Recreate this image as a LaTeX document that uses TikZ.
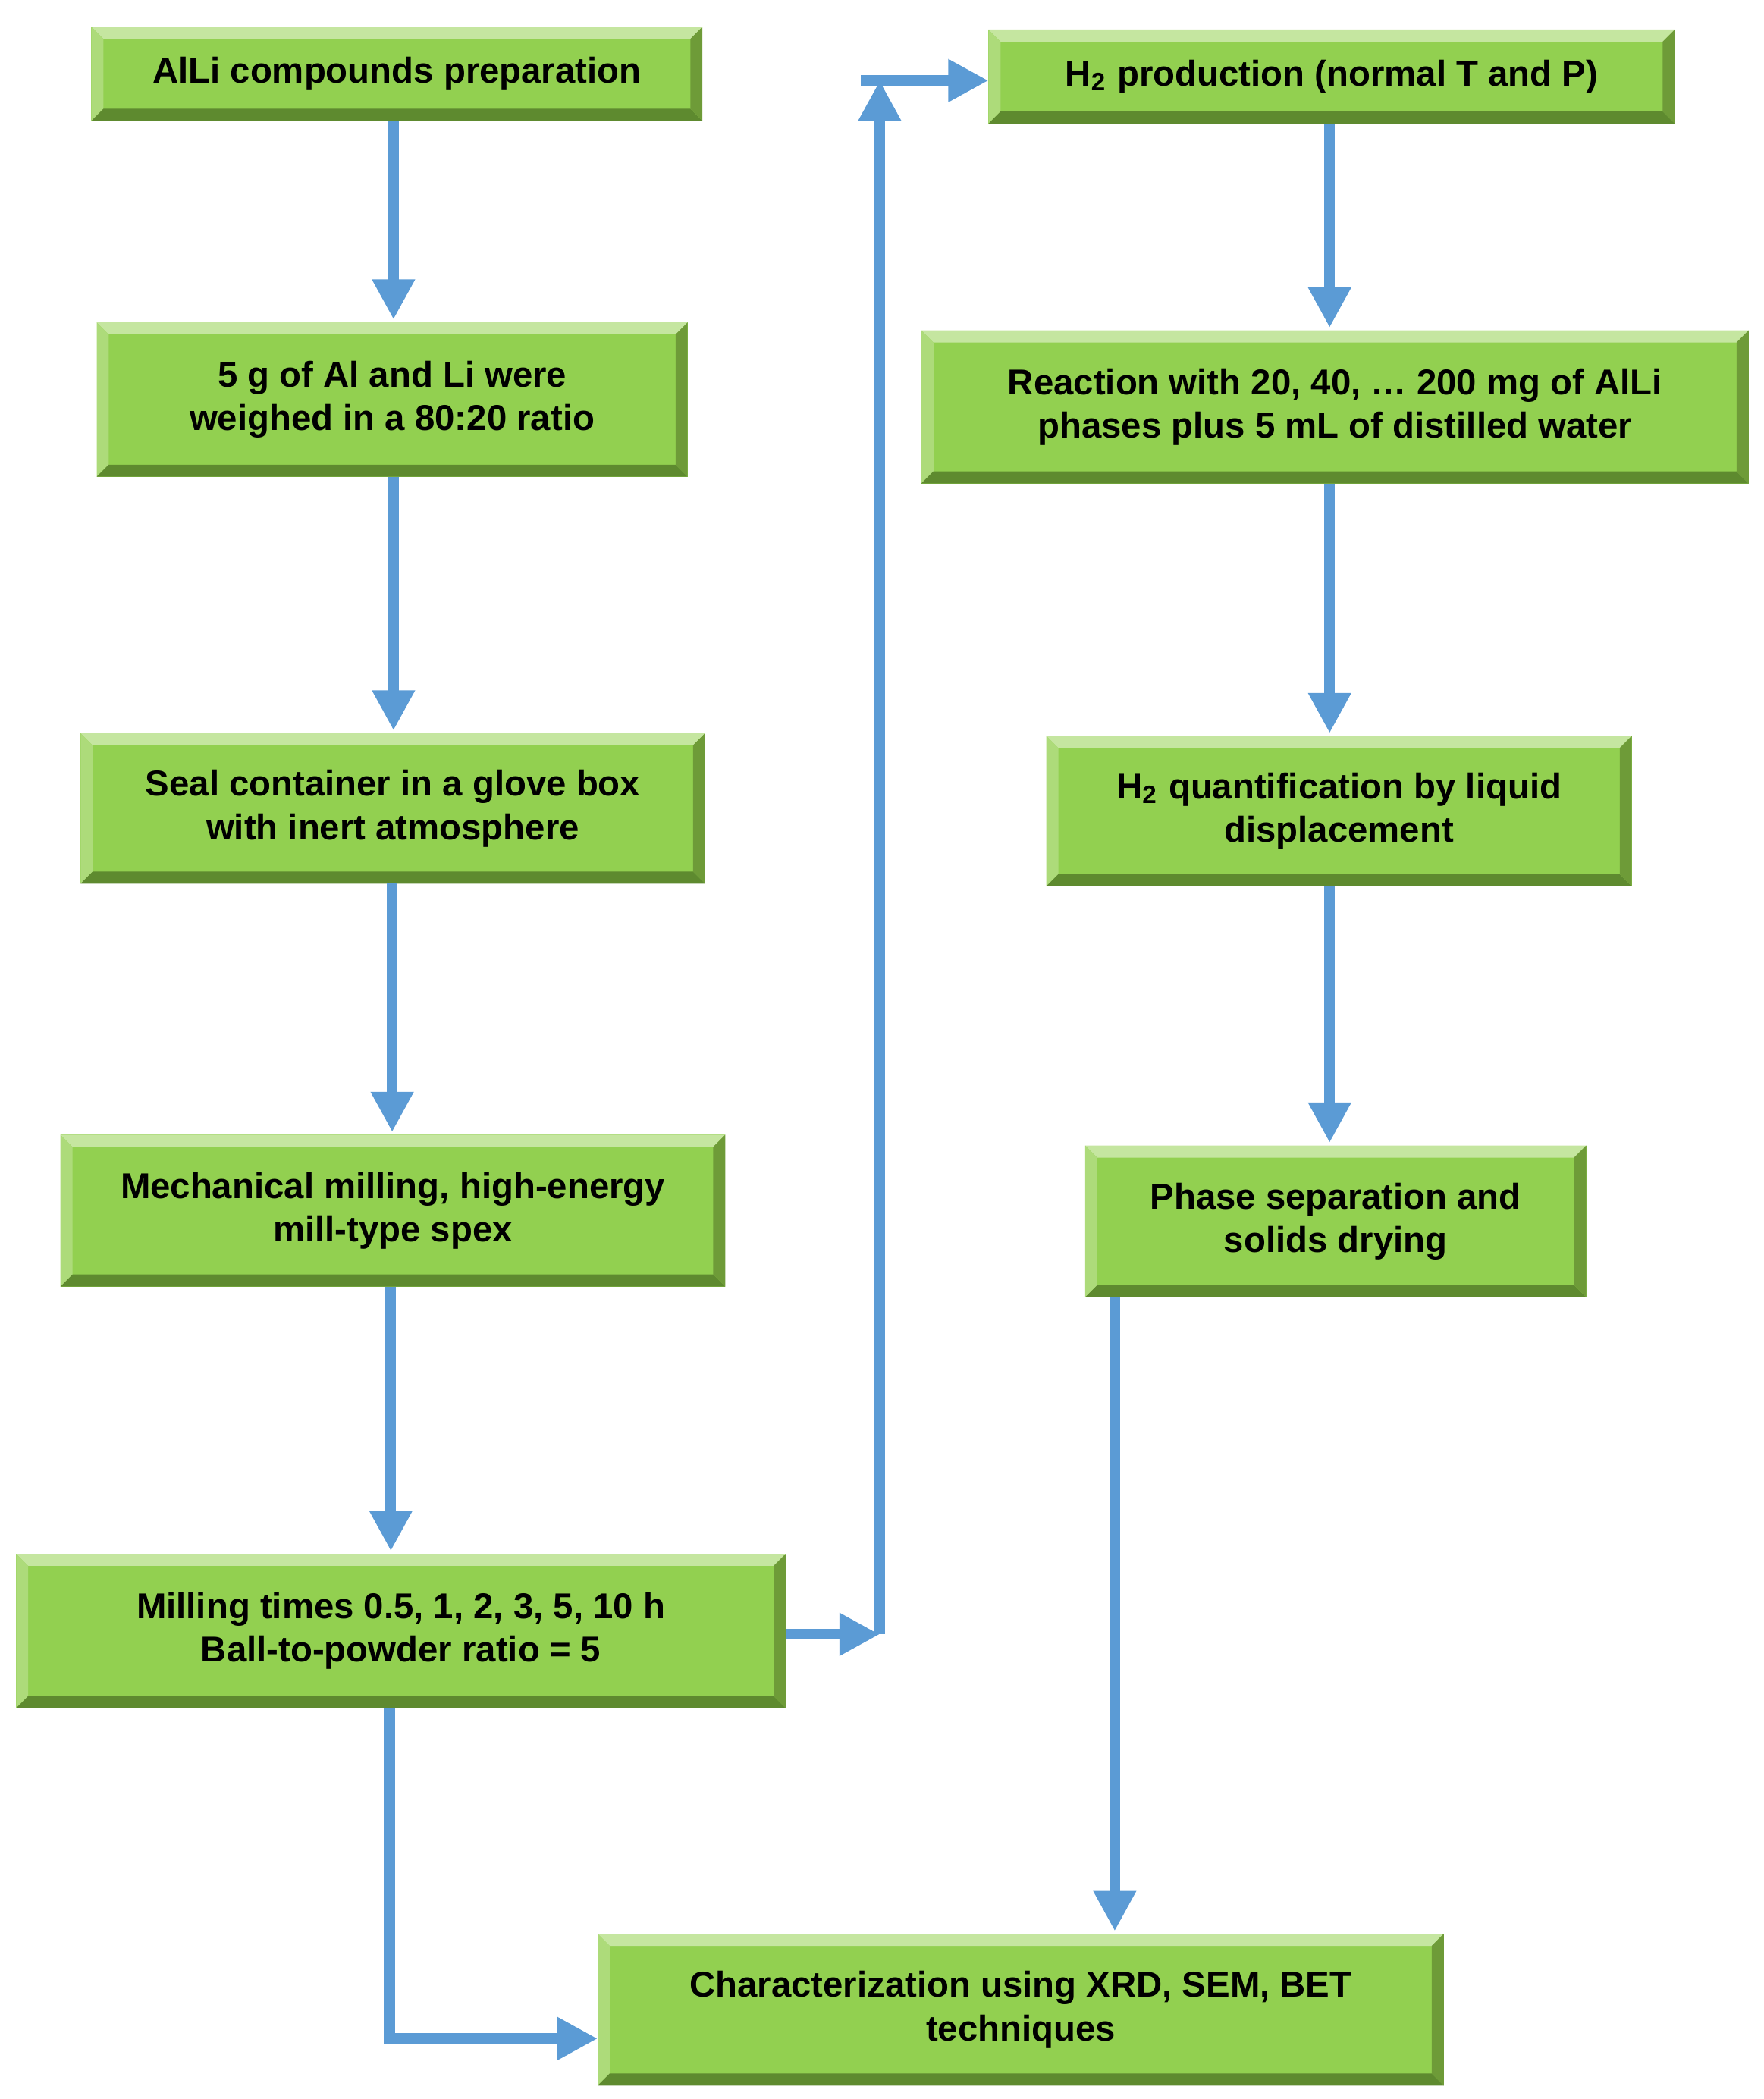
\documentclass[tikz,border=0pt]{standalone}
\usepackage{fontspec}
\setmainfont{Liberation Sans}
\usetikzlibrary{arrows.meta}
\definecolor{gfill}{HTML}{92D050}
\definecolor{glight}{HTML}{C5E6A0}
\definecolor{gleft}{HTML}{ADDB7A}
\definecolor{gdark}{HTML}{5E8A2F}
\definecolor{gright}{HTML}{6E9B38}
\definecolor{ablue}{HTML}{5B9BD5}
\tikzset{
 box/.style={fill=gfill, inner sep=0pt, outer sep=0pt, align=center,
  font=\fontsize{7.6}{9.2}\selectfont\bfseries,
  path picture={
   \def\b{0.09cm}
   \coordinate (nw) at (path picture bounding box.north west);
   \coordinate (ne) at (path picture bounding box.north east);
   \coordinate (sw) at (path picture bounding box.south west);
   \coordinate (se) at (path picture bounding box.south east);
   \fill[glight] (nw)--(ne)--([shift={(-\b,-\b)}]ne)--([shift={(\b,-\b)}]nw)--cycle;
   \fill[gleft] (nw)--(sw)--([shift={(\b,\b)}]sw)--([shift={(\b,-\b)}]nw)--cycle;
   \fill[gdark] (sw)--(se)--([shift={(-\b,\b)}]se)--([shift={(\b,\b)}]sw)--cycle;
   \fill[gright] (ne)--(se)--([shift={(-\b,\b)}]se)--([shift={(-\b,-\b)}]ne)--cycle;
  }},
 arr/.style={draw=ablue, line width=0.08cm, -{Triangle[length=0.3cm,width=0.3cm]}},
 ln/.style={draw=ablue, line width=0.08cm}
}
\newcommand\bx[6]{\node[box, minimum width={(#4-#2)*0.01cm}, minimum height={(#5-#3)*0.01cm}] (#1) at ({(#2+#4)/2},{(#3+#5)/2}) {#6};}
\begin{document}
\begin{tikzpicture}[x=0.01cm,y=-0.01cm]
\useasboundingbox (0,0) rectangle (1313,1563);
\bx{a}{68}{20}{523}{90}{AlLi compounds preparation}
\bx{b}{72}{240}{512}{355}{5 g of Al and Li were\\weighed in a 80:20 ratio}
\bx{c}{60}{546}{525}{658}{Seal container in a glove box\\with inert atmosphere}
\bx{d}{45}{845}{540}{958}{Mechanical milling, high-energy\\mill-type spex}
\bx{e}{12}{1157}{585}{1272}{Milling times 0.5, 1, 2, 3, 5, 10 h\\Ball-to-powder ratio = 5}
\bx{f}{736}{22}{1247}{92}{H\textsubscript{2} production (normal T and P)}
\bx{g}{686}{246}{1302}{360}{Reaction with 20, 40, \dots\ 200 mg of AlLi\\phases plus 5 mL of distilled water}
\bx{h}{779}{548}{1215}{660}{H\textsubscript{2} quantification by liquid\\displacement}
\bx{i}{808}{853}{1181}{966}{Phase separation and\\solids drying}
\bx{j}{445}{1440}{1075}{1553}{Characterization using XRD, SEM, BET\\techniques}
\coordinate (r1) at (655,1217);
\coordinate (r2) at (655,60);
\draw[arr] (293,90) -- (293,238);
\draw[arr] (293,355) -- (293,544);
\draw[arr] (292,658) -- (292,843);
\draw[arr] (291,958) -- (291,1155);
\draw[arr] (585,1217) -- (r1);
\draw[arr] (r1) -- (r2);
\draw[arr] ([xshift=-4]r2) -- (736,60);
\draw[arr] (990,92) -- (990,244);
\draw[arr] (990,360) -- (990,546);
\draw[arr] (990,660) -- (990,851);
\draw[arr] (830,966) -- (830,1438);
\draw[arr] (290,1272) -- (290,1518) -- (445,1518);
\end{tikzpicture}
\end{document}
